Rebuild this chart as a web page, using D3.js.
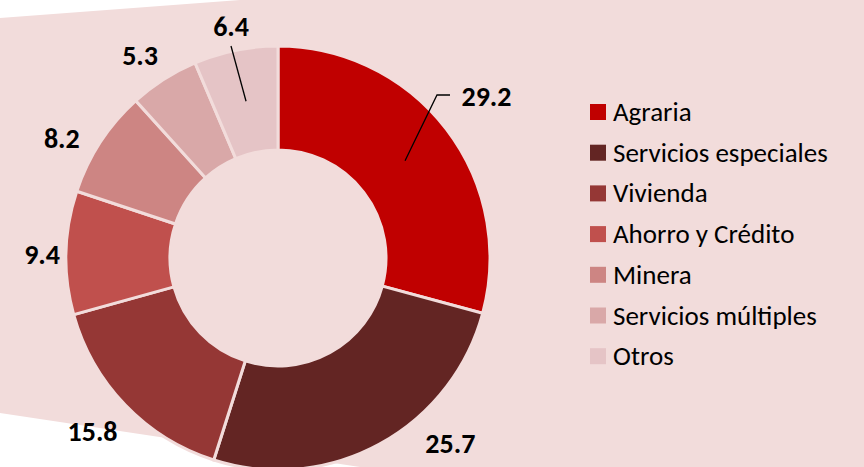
<!DOCTYPE html>
<html>
<head>
<meta charset="utf-8">
<script src="https://cdn.jsdelivr.net/npm/d3@7"></script>
<style>
  body { margin: 0; background: #ffffff; }
  svg { display: block; }
  text { font-family: Carlito, Lato, "DejaVu Sans", sans-serif; }
</style>
</head>
<body>
<div id="chart"></div>
<script>
// chart data
var categories = ["Agraria", "Servicios especiales", "Vivienda", "Ahorro y Crédito", "Minera", "Servicios múltiples", "Otros"];
var values = [29.2, 25.7, 15.8, 9.4, 8.2, 5.3, 6.4];
var colors = ["#C00000", "#632523", "#953735", "#C0504D", "#CD8583", "#D9A8A8", "#E5C4C6"];

var width = 864, height = 467;
var cx = 278, cy = 258,
    outerR = 212, innerR = 108;
var bg = "#F2DCDB";

var svg = d3.select("#chart")
    .append("svg")
    .attr("width", width)
    .attr("height", height);

// pink backdrop shape
svg.append("path")
    .attr("d", "M0,18 L240,0 L" + width + ",0 L" + width + "," + height + " L360," + height + " L0,413 Z")
    .attr("fill", bg);

var data = categories.map(function(c, i) { return {name: c, value: values[i], color: colors[i]}; });

var pie = d3.pie()
    .sort(null)
    .value(function(d) { return d.value; });

var arc = d3.arc()
    .innerRadius(innerR)
    .outerRadius(outerR);

var labelArc = d3.arc()
    .innerRadius(245)
    .outerRadius(245);

var arcs = pie(data);

var g = svg.append("g")
    .attr("transform", "translate(" + cx + "," + cy + ")");

g.selectAll("path.slice")
    .data(arcs)
    .enter().append("path")
    .attr("class", "slice")
    .attr("d", arc)
    .attr("fill", function(d) { return d.data.color; })
    .attr("stroke", bg)
    .attr("stroke-width", 3);

// label nudges (Excel moved some labels off the default spot)
var nudge = {
    "Agraria": [14, -13],
    "Servicios especiales": [55, -30],
    "Vivienda": [-9, 3],
    "Ahorro y Crédito": [9, 2],
    "Minera": [-11, 14],
    "Servicios múltiples": [-6, 4],
    "Otros": [2, 8]
};

var labels = g.selectAll("text.lbl")
    .data(arcs)
    .enter().append("text")
    .attr("class", "lbl")
    .attr("x", function(d) { return labelArc.centroid(d)[0] + nudge[d.data.name][0]; })
    .attr("y", function(d) { return labelArc.centroid(d)[1] + nudge[d.data.name][1]; })
    .attr("text-anchor", "middle")
    .attr("dy", "0.35em")
    .style("font-size", "28px")
    .style("font-weight", "bold")
    .attr("fill", "#000")
    .text(function(d) { return d.data.value.toFixed(1); });

// leader lines for the labels that were dragged
var leaders = {
    "Agraria": [[437 - cx, 95 - cy], [450 - cx, 95 - cy]],
    "Otros": [[231 - cx, 46 - cy]]
};
arcs.forEach(function(d) {
    var pts = leaders[d.data.name];
    if (!pts) return;
    var line = [arc.centroid(d)].concat(pts);
    g.append("path")
        .attr("d", d3.line()(line))
        .attr("fill", "none")
        .attr("stroke", "#000")
        .attr("stroke-width", 1.3);
});

// legend
var legend = svg.append("g")
    .attr("transform", "translate(590,104)");

var item = legend.selectAll("g")
    .data(data)
    .enter().append("g")
    .attr("transform", function(d, i) { return "translate(0," + (i * 40.7) + ")"; });

item.append("rect")
    .attr("width", 16)
    .attr("height", 16)
    .attr("fill", function(d) { return d.color; });

item.append("text")
    .attr("x", 23)
    .attr("y", 17)
    .style("font-size", "27px")
    .attr("fill", "#000")
    .text(function(d) { return d.name; });
</script>
</body>
</html>
